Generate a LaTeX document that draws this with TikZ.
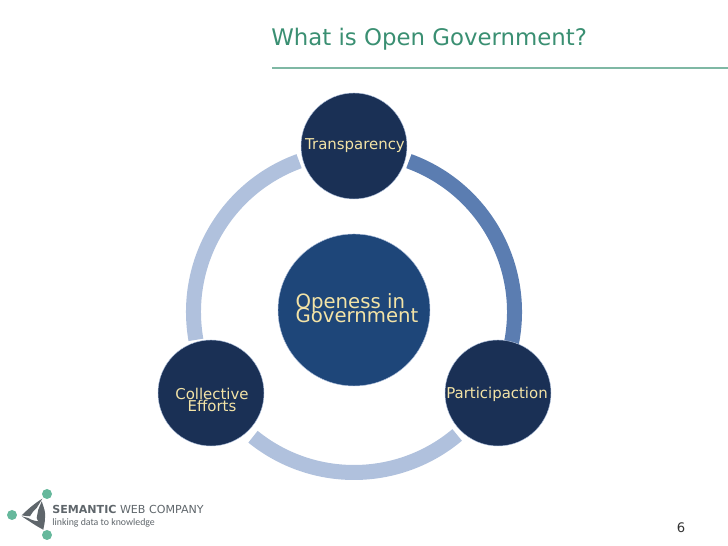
\documentclass[tikz,border=0pt]{standalone}
\usepackage{fontspec}
\setmainfont{DejaVu Sans}
\newfontfamily\logofont{Carlito}
\definecolor{titlegreen}{HTML}{3A8F72}
\definecolor{rulegreen}{HTML}{7FB8A4}
\definecolor{dotgreen}{HTML}{66B89C}
\definecolor{navy}{HTML}{1A3055}
\definecolor{coreblue}{HTML}{1E4679}
\definecolor{ringlight}{HTML}{B0C1DD}
\definecolor{ringdark}{HTML}{5B7DB1}
\definecolor{labelcream}{HTML}{F3E3A6}
\definecolor{logogrey}{HTML}{5F666B}
\tikzset{
  hub/.style={circle,fill=navy,draw=ringlight,line width=.25pt,minimum size=106*.02cm,inner sep=0pt},
  core/.style={circle,fill=coreblue,draw=ringlight,line width=.25pt,minimum size=152*.02cm,inner sep=0pt},
  hubtext/.style={inner sep=0pt,text=labelcream,align=center,font=\fontsize{8.5}{7.8}\selectfont},
  coretext/.style={inner sep=0pt,text=labelcream,align=left,font=\fontsize{11.2}{7.6}\selectfont},
  ringarc/.style={line width=15*.02cm},
  logodot/.style={circle,fill=dotgreen,minimum size=10*.02cm,inner sep=0pt},
  logotext/.style={anchor=west,inner sep=0pt,text=logogrey}
}
\begin{document}
\begin{tikzpicture}[x=.02cm,y=.02cm]
\useasboundingbox (0,0) rectangle (728,546);

% title
\node (title) [anchor=west,inner sep=0pt,text=titlegreen,font=\fontsize{13}{14}\selectfont] at (271,507) {What is Open Government?};
\coordinate (ruleL) at (272,478);
\coordinate (ruleR) at (728,478);
\draw[rulegreen,line width=.6pt] (ruleL)--(ruleR);

% ring
\coordinate (ring) at (354,234);
\foreach \a/\b/\c in {70/-11/ringdark,-50/-129/ringlight,-170/-250/ringlight}
{
    \draw[ringarc,\c] ([shift={(\a:160.5)}]ring) arc[start angle=\a,end angle=\b,radius=160.5];
}

% circles
\node (trans) [hub] at (354,400) {};
\node (collect) [hub] at (211,153) {};
\node (partic) [hub] at (498,153) {};
\node (open) [core] at (354,236) {};
\node (transT) [hubtext] at (355,400) {Transparency};
\node (collectT) [hubtext] at (212,146) {Collective\\[-.6pt]Efforts};
\node (particT) [hubtext] at (497,152) {Participaction};
\node (openT) [coretext] at (357,238) {Openess in\\[-4pt]Government};

% logo
\fill[logogrey] (42.3,47.3) .. controls (35,43) and (27,36) .. (21.7,30.7)
  .. controls (24,30) and (27,30) .. (30,29.7) .. controls (32,33) and (34,36) .. (36.7,38) -- cycle;
\fill[logogrey] (21.7,29.7) .. controls (29,25) and (36,20) .. (43.3,16.3)
  .. controls (42,20) and (40,22) .. (38.3,24.7) .. controls (35,25) and (31,26) .. (28.3,28) -- cycle;
\fill[logogrey] (41.7,44.7) .. controls (44,38) and (46,33) .. (45,28)
  .. controls (45,24) and (44,20) .. (43.3,16.3) .. controls (41,20) and (38,24) .. (36.7,28)
  .. controls (37,31) and (38,34) .. (38.3,36.3) -- cycle;
\node (dotT) [logodot] at (47,52) {};
\node (dotL) [logodot] at (12,31) {};
\node (dotB) [logodot] at (47,11) {};
\node (logoA) [logotext,font=\fontsize{6.3}{8}\selectfont] at (52,37) {\textbf{SEMANTIC} WEB COMPANY};
\node (logoB) [logotext,font=\logofont\fontsize{5.6}{6}\selectfont] at (52,23) {linking data to knowledge};

% page number
\node (page) [inner sep=0pt,text=black!80,font=\fontsize{7.5}{8}\selectfont] at (681,18) {6};
\end{tikzpicture}
\end{document}
